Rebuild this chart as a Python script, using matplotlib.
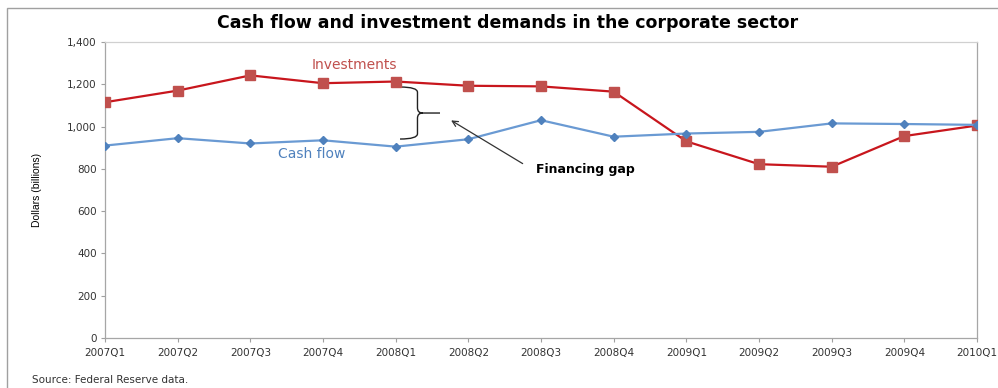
import numpy as np
import matplotlib.pyplot as plt
from matplotlib.patches import Rectangle, PathPatch
from matplotlib.path import Path

quarters = ['2007Q1', '2007Q2', '2007Q3', '2007Q4', '2008Q1', '2008Q2', '2008Q3',
            '2008Q4', '2009Q1', '2009Q2', '2009Q3', '2009Q4', '2010Q1']
investments = [1115, 1170, 1242, 1205, 1213, 1193, 1190, 1165, 930, 822, 810, 955, 1005]
cash_flow = [910, 945, 920, 935, 905, 940, 1030, 952, 967, 975, 1015, 1012, 1008]
y_ticks = [0, 200, 400, 600, 800, 1000, 1200, 1400]

plt.rcParams['font.family'] = ['DejaVu Sans']

fig = plt.figure(figsize=(9.98, 3.88), dpi=100)
ax = fig.add_axes([0.1052, 0.1289, 0.979 - 0.1052, 0.8918 - 0.1289])

x = np.arange(len(quarters))
ax.plot(x, investments, color='#c8161d', lw=1.6, marker='s', ms=6.5,
        mfc='#c0504d', mec='#c0504d', zorder=3)
ax.plot(x, cash_flow, color='#6a9ad3', lw=1.6, marker='D', ms=4,
        mfc='#4f81bd', mec='#4f81bd', zorder=3)

ax.set_xlim(0, len(quarters) - 1)
ax.set_ylim(0, 1400)
ax.set_xticks(x)
ax.set_xticklabels(quarters, fontsize=7.5, color='#333333')
ax.set_yticks(y_ticks)
ax.set_yticklabels([f'{v:,}' for v in y_ticks], fontsize=7.5, color='#333333')
ax.tick_params(axis='both', length=3, color='#a0a0a0', width=0.8, pad=3)
ax.tick_params(axis='x', pad=4)
for s in ax.spines.values():
    s.set_color('#a6a6a6')
    s.set_linewidth(0.9)
ax.spines['top'].set_color('#d0d0d0')

ax.set_ylabel('Dollars (billions)', fontsize=7.5,
              family=['Liberation Sans Narrow', 'Liberation Sans'], labelpad=18)

fig.text(0.509, 0.94, 'Cash flow and investment demands in the corporate sector',
         ha='center', va='center', fontsize=12.5, fontweight='bold')

ax.text(3.43, 1290, 'Investments', color='#c0504d', fontsize=10, ha='center', va='center')
ax.text(2.85, 870, 'Cash flow', color='#4f81bd', fontsize=10, ha='center', va='center')

# curly brace marking the gap between the two series
x0, x1, xc, xt = 4.06, 4.30, 4.37, 4.61
ytop, ybot = 1187, 941
ymid = (ytop + ybot) / 2
verts = [(x0, ytop), (x1, ytop), (x1, ytop - 25), (x1, ymid + 25),
         (x1, ymid), (xc, ymid), (xt, ymid),
         (xc, ymid), (x1, ymid), (x1, ymid - 25),
         (x1, ybot + 25), (x1, ybot), (x0, ybot)]
codes = [Path.MOVETO, Path.CURVE3, Path.CURVE3, Path.LINETO,
         Path.CURVE3, Path.CURVE3, Path.LINETO,
         Path.MOVETO, Path.CURVE3, Path.CURVE3, Path.LINETO,
         Path.CURVE3, Path.CURVE3]
ax.add_patch(PathPatch(Path(verts, codes), fill=False, lw=1.0, color='#222222'))

ax.annotate('', xy=(4.73, 1036), xytext=(5.78, 818),
            arrowprops=dict(arrowstyle='->', color='#333333', lw=0.9))
ax.text(5.93, 795, 'Financing gap', fontsize=9, fontweight='bold', ha='left', va='center')

fig.text(0.032, 0.02, 'Source: Federal Reserve data.', fontsize=7.5, color='#333333',
         ha='left', va='center')

fig.patches.append(Rectangle((0.007, -0.1), 1.1, 1.079, transform=fig.transFigure,
                             fill=False, ec='#a0a0a0', lw=1.0))

fig.savefig('out.png', dpi=100)
